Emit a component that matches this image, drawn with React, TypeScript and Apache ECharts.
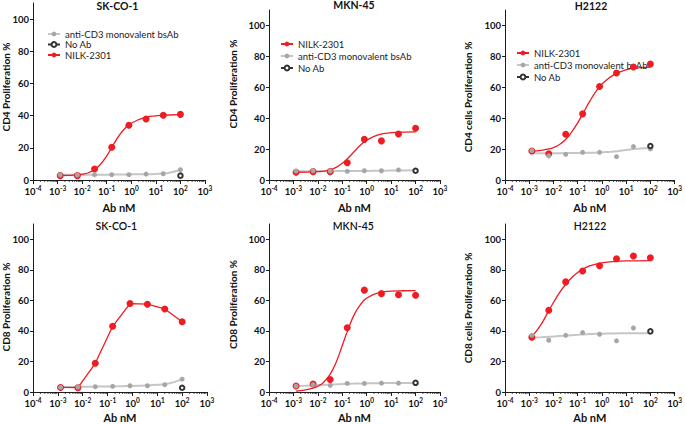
import React, { useEffect, useRef } from 'react';
import * as echarts from 'echarts';

// ---------- data ----------
const conc = [0.00128, 0.0064, 0.032, 0.16, 0.8, 4, 20, 100];
const fitX = [0.00128, 0.00316, 0.0064, 0.01, 0.0178, 0.0316, 0.0562, 0.1, 0.178, 0.316, 0.562, 1, 3.16, 10, 31.6, 100];
const decadeExp = [-4, -3, -2, -1, 0, 1, 2, 3];
const minorMantissa = [2, 3, 4, 5, 6, 7, 8, 9];
const yTicks = [0, 20, 40, 60, 80, 100];

const NILK = 'NILK-2301';
const ANTI = 'anti-CD3 monovalent bsAb';
const NOAB = 'No Ab';

// Panel 1: CD4, SK-CO-1
const p1Nilk = [2.7, 2.7, 6.8, 20.4, 34.0, 37.9, 40.2, 40.8];
const p1Anti = [3.1, 3.1, 3.3, 3.3, 3.3, 3.7, 3.9, 6.4];
const p1NoAb = [2.7];
const p1NilkFit = [2.8, 2.9, 3.2, 3.6, 4.5, 6.4, 9.8, 15.0, 21.5, 27.5, 32.2, 35.3, 38.6, 39.9, 40.4, 40.6];
const p1AntiFit = [3.2, 3.2, 3.2, 3.25, 3.25, 3.3, 3.3, 3.3, 3.35, 3.4, 3.4, 3.5, 3.6, 3.75, 4.4, 6.4];

// Panel 2: CD4, MKN-45
const p2Nilk = [5.0, 5.4, 5.4, 11.2, 26.3, 25.3, 29.8, 33.5];
const p2Anti = [5.8, 6.0, 5.8, 5.6, 6.0, 6.0, 6.5, 6.3];
const p2NoAb = [6.0];
const p2NilkFit = [5.0, 5.1, 5.2, 5.4, 5.8, 6.6, 8.2, 10.8, 14.4, 18.6, 22.6, 25.8, 29.3, 30.6, 31.0, 31.1];
const p2AntiFit = [5.7, 5.7, 5.7, 5.7, 5.7, 5.7, 5.75, 5.8, 5.8, 5.85, 5.9, 5.9, 6.0, 6.1, 6.2, 6.3];

// Panel 3: CD4, H2122
const p3Nilk = [18.8, 17.0, 29.6, 42.8, 60.5, 69.2, 73.1, 75.0];
const p3Anti = [19.0, 15.6, 16.6, 17.9, 17.9, 15.1, 21.6, 20.1];
const p3NoAb = [22.0];
const p3NilkFit = [18.5, 19.2, 20.1, 21.0, 23.0, 26.2, 31.0, 37.0, 44.0, 51.0, 57.2, 62.0, 68.2, 71.3, 72.6, 73.1];
const p3AntiFit = [17.3, 17.3, 17.3, 17.3, 17.35, 17.4, 17.4, 17.45, 17.5, 17.6, 17.7, 17.9, 18.5, 19.4, 20.2, 20.7];

// Panel 4: CD8, SK-CO-1 (points joined, no fit)
const p4Nilk = [3.0, 2.8, 18.8, 43.0, 57.9, 57.5, 54.4, 46.0];
const p4Anti = [3.0, 3.2, 3.5, 3.7, 4.1, 4.1, 4.8, 8.4];
const p4NoAb = [2.8];
const p4AntiFit = [3.2, 3.3, 3.35, 3.4, 3.45, 3.5, 3.55, 3.6, 3.65, 3.75, 3.85, 3.95, 4.2, 4.7, 5.7, 8.4];

// Panel 5: CD8, MKN-45
const p5Nilk = [3.9, 5.2, 8.2, 42.1, 66.7, 64.4, 63.7, 63.3];
const p5Anti = [3.9, 4.8, 4.3, 5.6, 5.6, 5.8, 5.8, 5.8];
const p5NoAb = [6.0];
const p5NilkFit = [0.6, 1.4, 2.6, 3.8, 6.6, 11.5, 19.5, 30.5, 41.5, 51.0, 57.3, 61.5, 65.0, 66.0, 66.3, 66.4];
const p5AntiFit = [3.9, 4.1, 4.3, 4.45, 4.65, 4.85, 5.05, 5.25, 5.4, 5.5, 5.6, 5.7, 5.8, 5.85, 5.9, 5.9];

// Panel 6: CD8, H2122
const p6Nilk = [35.8, 53.5, 72.1, 79.2, 82.7, 87.3, 89.0, 87.9];
const p6Anti = [37.1, 33.9, 37.1, 38.9, 37.8, 33.5, 41.9, 39.7];
const p6NoAb = [39.7];
const p6NilkFit = [36.3, 44.5, 53.3, 58.6, 65.0, 70.4, 74.8, 78.3, 80.8, 82.6, 83.8, 84.6, 85.4, 85.8, 85.9, 86.0];
const p6AntiFit = [35.7, 35.9, 36.1, 36.3, 36.6, 36.9, 37.2, 37.5, 37.7, 37.9, 38.1, 38.2, 38.35, 38.45, 38.5, 38.5];

const titles = ['SK-CO-1', 'MKN-45', 'H2122', 'SK-CO-1', 'MKN-45', 'H2122'];
const yNames = [
  'CD4 Proliferation %', 'CD4 Proliferation %', 'CD4 cells Proliferation %',
  'CD8 Proliferation %', 'CD8 Proliferation %', 'CD8 cells Proliferation %',
];

// ---------- layout / style ----------
const FONT = 'Lato, "Open Sans", sans-serif';
const RED = '#ee1c23';
const GRAY_PT = '#a6a6a6';
const GRAY_LN = '#c6c6c6';
const DARK = '#1e1e1e';

const grids = [
  { left: 33, top: 3, width: 172, height: 177 },
  { left: 269, top: 10, width: 171, height: 170 },
  { left: 505, top: 10, width: 171, height: 170 },
  { left: 33, top: 224, width: 174, height: 170 },
  { left: 269, top: 224, width: 171, height: 170 },
  { left: 505, top: 224, width: 172, height: 170 },
];
const titlePos = [[117.5, 5.5], [354, 5], [591, 5.5], [116.3, 225.5], [353.3, 226], [590, 226]];
const yNamePos = [[5.5, 87], [233, 84], [467.5, 97], [5.5, 307], [233, 304.5], [467.5, 308]];

type Panel = {
  nilk: number[]; anti: number[]; noAb: number[];
  nilkFit: number[] | null; antiFit: number[];
};
const panels: Panel[] = [
  { nilk: p1Nilk, anti: p1Anti, noAb: p1NoAb, nilkFit: p1NilkFit, antiFit: p1AntiFit },
  { nilk: p2Nilk, anti: p2Anti, noAb: p2NoAb, nilkFit: p2NilkFit, antiFit: p2AntiFit },
  { nilk: p3Nilk, anti: p3Anti, noAb: p3NoAb, nilkFit: p3NilkFit, antiFit: p3AntiFit },
  { nilk: p4Nilk, anti: p4Anti, noAb: p4NoAb, nilkFit: null, antiFit: p4AntiFit },
  { nilk: p5Nilk, anti: p5Anti, noAb: p5NoAb, nilkFit: p5NilkFit, antiFit: p5AntiFit },
  { nilk: p6Nilk, anti: p6Anti, noAb: p6NoAb, nilkFit: p6NilkFit, antiFit: p6AntiFit },
];

const pairs = (xs: number[], ys: number[]) => ys.map((y, i) => [xs[i], y]);

function buildOption() {
  const minorVals: number[] = [];
  decadeExp.slice(0, -1).forEach((e) => minorMantissa.forEach((m) => minorVals.push(m * Math.pow(10, e))));

  const xAxis = grids.map((_, i) => ({
    type: 'log',
    logBase: 10,
    gridIndex: i,
    min: 1e-4,
    max: 1e3,
    interval: 1,
    name: 'Ab nM',
    nameLocation: 'middle',
    nameGap: i < 3 ? 22 : 20,
    nameTextStyle: { fontFamily: FONT, fontWeight: 'bold', fontSize: 11, color: '#111' },
    axisLine: { lineStyle: { color: DARK, width: 1 } },
    axisTick: { length: 4, lineStyle: { color: DARK, width: 1 } },
    splitLine: { show: false },
    axisLabel: {
      margin: 5,
      color: '#111',
      formatter: (v: number) => `{b|10}{s|${Math.round(Math.log10(v))}}`,
      rich: {
        b: { fontFamily: FONT, fontWeight: 'bold', fontSize: 9.5, color: '#111' },
        s: { fontFamily: FONT, fontWeight: 'bold', fontSize: 6.5, color: '#111', padding: [0, 0, 6, 0] },
      },
    },
  }));

  const yAxis = grids.map((_, i) => ({
    type: 'value',
    gridIndex: i,
    min: 0,
    max: 110,
    interval: 10,
    axisLine: { show: true, lineStyle: { color: DARK, width: 1 } },
    axisTick: { show: true, length: 3, customValues: yTicks, lineStyle: { color: DARK, width: 1 } },
    splitLine: { show: false },
    axisLabel: {
      customValues: yTicks,
      margin: 4,
      fontFamily: FONT,
      fontWeight: 'bold',
      fontSize: 9.5,
      color: '#111',
    },
  }));

  const series: any[] = [];
  panels.forEach((p, i) => {
    const ax = { xAxisIndex: i, yAxisIndex: i };
    series.push({
      type: 'custom', ...ax, silent: true, clip: false, z: 1,
      data: minorVals.map((v) => [v, 0]),
      renderItem: (_params: any, api: any) => {
        const pt = api.coord([api.value(0), 0]);
        return {
          type: 'line',
          shape: { x1: pt[0], y1: pt[1], x2: pt[0], y2: pt[1] + 2 },
          style: { stroke: DARK, lineWidth: 0.8 },
        };
      },
    });
    series.push({
      name: ANTI, type: 'line', ...ax, smooth: true, showSymbol: false, symbol: 'circle',
      data: pairs(fitX, p.antiFit),
      lineStyle: { color: GRAY_LN, width: 2 },
      itemStyle: { color: GRAY_PT },
      z: 2,
    });
    if (p.nilkFit) {
      series.push({
        name: NILK, type: 'line', ...ax, smooth: true, showSymbol: false, symbol: 'circle',
        data: pairs(fitX, p.nilkFit),
        lineStyle: { color: RED, width: 1.3 },
        itemStyle: { color: RED },
        z: 3,
      });
      series.push({
        name: NILK, type: 'scatter', ...ax, symbol: 'circle', symbolSize: 7,
        data: pairs(conc, p.nilk),
        itemStyle: { color: RED, opacity: 1 },
        z: 4,
      });
    } else {
      series.push({
        name: NILK, type: 'line', ...ax, smooth: false, showSymbol: true, symbol: 'circle', symbolSize: 7,
        data: pairs(conc, p.nilk),
        lineStyle: { color: RED, width: 1.3 },
        itemStyle: { color: RED },
        z: 3,
      });
    }
    series.push({
      name: ANTI, type: 'scatter', ...ax, symbol: 'circle', symbolSize: 5,
      data: pairs(conc, p.anti),
      itemStyle: { color: GRAY_PT, opacity: 1 },
      z: 5,
    });
    series.push({
      name: NOAB, type: 'line', ...ax, symbol: 'emptyCircle', symbolSize: 4.5, showSymbol: true,
      data: pairs(conc.slice(-1), p.noAb),
      lineStyle: { color: '#333', width: 1.2 },
      itemStyle: { color: '#333', borderWidth: 1 },
      z: 6,
    });
  });

  const legendBase = {
    orient: 'vertical',
    itemWidth: 12,
    itemHeight: 6,
    selectedMode: false,
    textStyle: { fontFamily: FONT, fontSize: 9.5, color: '#222' },
  };

  const graphic: any[] = [];
  titles.forEach((t, i) => {
    graphic.push({
      type: 'text', x: titlePos[i][0], y: titlePos[i][1], silent: true,
      style: {
        text: t, align: 'center', verticalAlign: 'middle',
        font: `${i < 3 ? 'bold' : '600'} 10.5px ${FONT}`, fill: '#111',
      },
    });
  });
  yNames.forEach((t, i) => {
    graphic.push({
      type: 'text', x: yNamePos[i][0], y: yNamePos[i][1], rotation: Math.PI / 2, silent: true,
      style: { text: t, align: 'center', verticalAlign: 'middle', font: `bold 10px ${FONT}`, fill: '#111' },
    });
  });

  return {
    animation: false,
    backgroundColor: '#fff',
    grid: grids.map((g) => ({ ...g, containLabel: false })),
    xAxis,
    yAxis,
    legend: [
      { ...legendBase, data: [ANTI, NOAB, NILK], left: 42, top: 24, itemGap: 0.5 },
      { ...legendBase, data: [NILK, ANTI, NOAB], left: 275, top: 34, itemGap: 2 },
      { ...legendBase, data: [NILK, ANTI, NOAB], left: 511, top: 43, itemGap: 2 },
    ],
    graphic,
    series,
  };
}

export default function App() {
  const ref = useRef<HTMLDivElement>(null);
  useEffect(() => {
    const chart = echarts.init(ref.current!, null, { renderer: 'svg' });
    chart.setOption(buildOption() as any);
    return () => chart.dispose();
  }, []);
  return (
    <div
      ref={ref}
      style={{ position: 'absolute', left: 0, top: 0, width: 685, height: 424, background: '#fff' }}
    />
  );
}
